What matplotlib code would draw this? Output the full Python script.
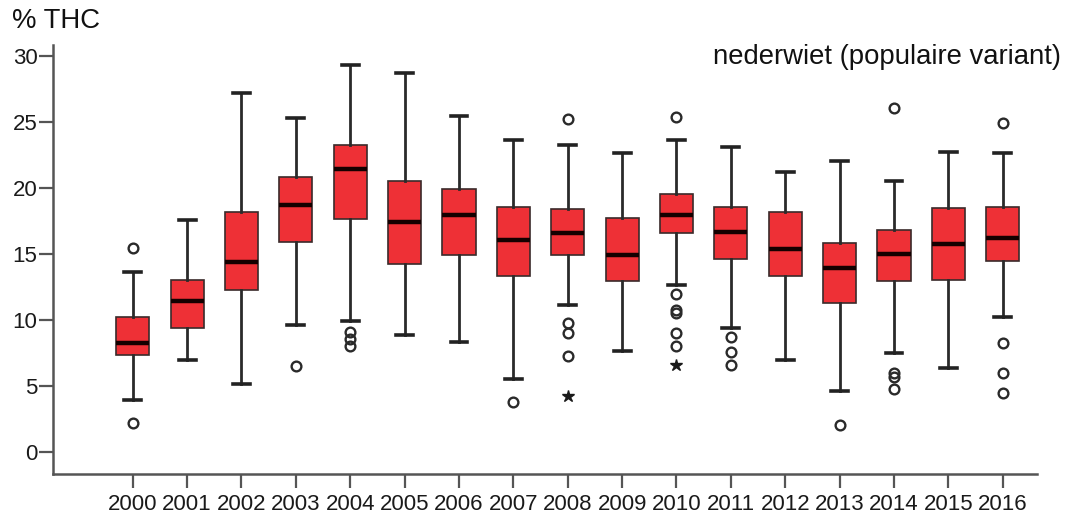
import matplotlib
matplotlib.use("Agg")
import matplotlib.pyplot as plt

plt.rcParams['font.family'] = ['Liberation Sans', 'DejaVu Sans']

years = ['2000', '2001', '2002', '2003', '2004', '2005', '2006', '2007', '2008',
         '2009', '2010', '2011', '2012', '2013', '2014', '2015', '2016']
q1 = [7.34, 9.39, 12.26, 15.9, 17.66, 14.25, 14.96, 13.32, 14.96, 12.99,
      16.58, 14.66, 13.32, 11.28, 12.99, 13.04, 14.48]
med = [8.27, 11.48, 14.38, 18.75, 21.45, 17.46, 17.94, 16.05, 16.58, 14.94,
       17.94, 16.65, 15.41, 13.95, 15.03, 15.75, 16.2]
q3 = [10.27, 13.07, 18.22, 20.84, 23.24, 20.56, 19.93, 18.55, 18.39, 17.74,
      19.55, 18.55, 18.17, 15.84, 16.85, 18.49, 18.55]
whislo = [3.98, 6.99, 5.19, 9.66, 9.96, 8.86, 8.35, 5.57, 11.15, 7.67,
          12.66, 9.39, 6.99, 4.66, 7.49, 6.38, 10.27]
whishi = [13.67, 17.56, 27.18, 25.33, 29.35, 28.74, 25.43, 23.64, 23.24, 22.63,
          23.64, 23.14, 21.24, 22.05, 20.54, 22.73, 22.63]
outliers = [
    [15.44, 2.19],
    [],
    [],
    [6.56],
    [9.1, 8.6, 8.05],
    [],
    [],
    [3.81],
    [25.23, 9.77, 9.01, 7.31],
    [],
    [25.36, 11.98, 10.8, 10.55, 9.01, 8.05],
    [8.71, 7.57, 6.61],
    [],
    [2.07],
    [26.04, 5.98, 5.7, 4.79],
    [],
    [24.95, 8.27, 5.98, 4.49],
]
extreme_years = ['2008', '2010']
extreme_vals = [4.26, 6.61]

fig = plt.figure(figsize=(10.71, 5.15), dpi=100)
ax = fig.add_axes([0.0498, 0.0796, 0.968 - 0.0498, 0.9126 - 0.0796])

stats = []
for i, y in enumerate(years):
    stats.append(dict(label=y, q1=q1[i], med=med[i], q3=q3[i],
                      whislo=whislo[i], whishi=whishi[i], fliers=outliers[i]))

positions = list(range(len(years)))
ax.bxp(stats, positions=positions, widths=0.61, patch_artist=True,
       boxprops=dict(facecolor='#ee3036', edgecolor='#3a2a2a', linewidth=1.2),
       medianprops=dict(color='#140000', linewidth=3.2, solid_capstyle='butt'),
       whiskerprops=dict(color='#2a2a2a', linewidth=2.0),
       capprops=dict(color='#222222', linewidth=2.6),
       capwidths=0.31,
       flierprops=dict(marker='o', markersize=7, markerfacecolor='none',
                       markeredgecolor='#2a2a2a', markeredgewidth=1.7))

ex_pos = [years.index(y) for y in extreme_years]
ax.plot(ex_pos, extreme_vals, linestyle='none', marker='*', markersize=9,
        color='#1a1a1a')

ax.set_xlim(-1.46, 16.625)
ax.set_ylim(-1.64, 30.83)
ax.set_yticks([0, 5, 10, 15, 20, 25, 30])
ax.set_xticks(positions)
ax.set_xticklabels(years)

for s in ['top', 'right']:
    ax.spines[s].set_visible(False)
for s in ['left', 'bottom']:
    ax.spines[s].set_color('#555555')
    ax.spines[s].set_linewidth(1.8)

ax.tick_params(axis='y', length=10, width=1.6, color='#555555', pad=1.5,
               labelsize=16, labelcolor='#1a1a1a')
ax.tick_params(axis='x', length=10, width=1.6, color='#555555', pad=4.5,
               labelsize=16, labelcolor='#1a1a1a')

fig.text(12 / 1071, 1 - 28 / 515, '% THC', fontsize=19.8, color='#111111',
         ha='left', va='baseline')
fig.text(1061 / 1071, 1 - 64 / 515, 'nederwiet (populaire variant)',
         fontsize=19.8, color='#111111', ha='right', va='baseline')

fig.savefig('out.png', dpi=100)
